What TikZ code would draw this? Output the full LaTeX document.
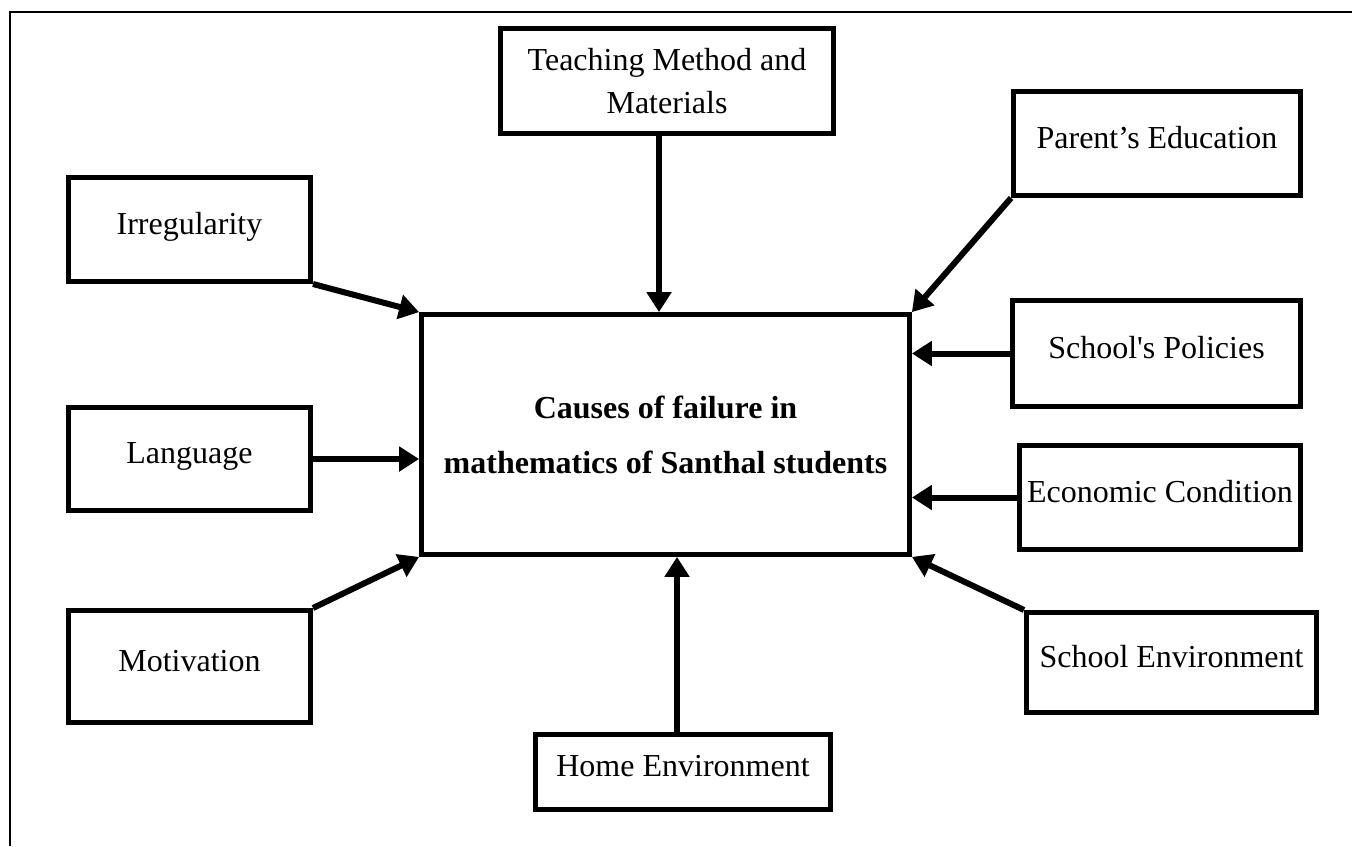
\documentclass[tikz,border=0pt]{standalone}
\usepackage{fontspec}
\setmainfont{Liberation Serif}
\usetikzlibrary{arrows.meta}

\tikzset{
  factor/.style={draw,line width=2.5pt,inner sep=0pt,align=center,
    text height=11pt,text depth=6.5pt},
  bigbox/.style={draw,line width=2.4pt,inner sep=0pt,align=center,
    font=\fontsize{16}{27.5}\selectfont\bfseries},
  cause/.style={line width=3pt,-{Triangle[length=10pt,width=12pt]}}
}

\begin{document}
\begin{tikzpicture}[x=0.5pt,y=-0.5pt,font=\fontsize{16}{21.5}\selectfont]
  \useasboundingbox (0,0) rectangle (1352,846);
  \draw[line width=0.75pt] (10,846) -- (10,12) -- (1352,12);

  \node[bigbox,minimum width=244pt,minimum height=120pt] (cause) at (665.5,434.5)
    {Causes of failure in\\mathematics of Santhal students};

  \node[factor,minimum width=121pt,minimum height=52pt] (irreg) at (189.5,229.5) {Irregularity};
  \node[factor,minimum width=121pt,minimum height=51.5pt] (lang) at (189.5,459) {Language};
  \node[factor,minimum width=121pt,minimum height=56pt] (motiv) at (189.5,666.5) {Motivation};
  \node[draw,line width=2.5pt,inner sep=0pt,align=center,minimum width=166.5pt,minimum height=52.5pt]
    (teach) at (667,81) {Teaching Method and\\Materials};
  \node[factor,minimum width=143.5pt,minimum height=52pt] (parent) at (1157,143.5) {Parent’s Education};
  \node[factor,minimum width=144pt,minimum height=53pt] (policy) at (1156.5,353.5) {School\textquotesingle s Policies};
  \node[factor,minimum width=140.5pt,minimum height=52pt] (econ) at (1160,497.5) {Economic Condition};
  \node[factor,minimum width=145pt,minimum height=50pt] (schenv) at (1171.5,662.5) {School Environment};
  \node[factor,minimum width=147.5pt,minimum height=37.5pt] (homenv) at (683,772) {Home Environment};

  \draw[cause] (irreg.south east) -- (cause.north west);
  \draw[cause] (lang.east) -- (lang.east -| cause.west);
  \draw[cause] (motiv.north east) -- (cause.south west);
  \draw[cause] ([xshift=-4pt]teach.south) -- ([xshift=-4pt]teach.south |- cause.north);
  \draw[cause] (parent.south west) -- (cause.north east);
  \draw[cause] (policy.west) -- (policy.west -| cause.east);
  \draw[cause] (econ.west) -- (econ.west -| cause.east);
  \draw[cause] (schenv.north west) -- (cause.south east);
  \draw[cause] ([xshift=-3pt]homenv.north) -- ([xshift=-3pt]homenv.north |- cause.south);
\end{tikzpicture}
\end{document}
